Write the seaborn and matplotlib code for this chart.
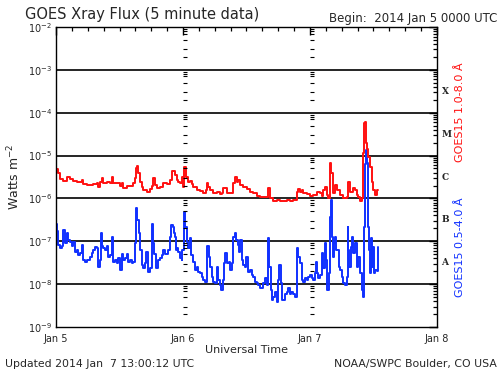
import numpy as np
import pandas as pd
import matplotlib
matplotlib.use("Agg")
import matplotlib.pyplot as plt
import seaborn as sns
from matplotlib.ticker import FixedLocator, LogLocator, NullFormatter, FuncFormatter

# ---- data: hours since 2014 Jan 5 00:00 UTC, log10 flux (W m^-2) ----
long_hours = [0.0, 0.38, 0.76, 1.32, 2.08, 2.65, 3.21, 3.97, 4.54, 4.86, 5.10, 5.86, 6.43, 6.99,
              7.75, 7.94, 8.32, 8.69, 8.88, 9.64, 10.2, 10.6, 10.8, 11.5, 12.1, 12.5, 12.7, 13.4,
              14.0, 14.6, 14.9, 15.1, 15.3, 15.5, 15.9, 16.3, 16.4, 17.2, 17.8, 18.1, 18.3, 18.7,
              19.1, 19.7, 20.2, 21.0, 21.5, 21.9, 22.1, 22.5, 22.9, 23.1, 23.4, 23.8, 24.0, 24.2,
              24.6, 24.9, 25.3, 25.7, 25.9, 26.6, 27.2, 27.8, 28.3, 28.5, 28.7, 29.1, 29.7, 30.4,
              31.0, 31.4, 31.6, 32.3, 32.9, 33.4, 33.8, 34.2, 34.4, 34.8, 35.3, 36.1, 36.7, 37.2,
              38.0, 38.6, 39.1, 39.9, 40.1, 40.4, 41.0, 41.8, 42.3, 42.9, 43.7, 44.2, 44.8, 45.5,
              45.7, 46.1, 46.5, 46.7, 47.4, 48.0, 48.6, 49.3, 49.9, 50.3, 50.5, 50.8, 51.2, 51.4,
              51.8, 52.0, 52.3, 52.7, 53.1, 53.7, 54.2, 55.0, 55.2, 55.6, 56.1, 56.5, 56.9, 57.1,
              57.4, 57.8, 58.1, 58.2, 58.4, 58.6, 58.8, 59.0, 59.3, 59.7, 60.0, 60.3, 60.6, 60.9]
long_log = [-5.32, -5.41, -5.55, -5.59, -5.49, -5.55, -5.59, -5.61, -5.62, -5.57, -5.67, -5.69, -5.69, -5.67,
            -5.63, -5.73, -5.61, -5.53, -5.65, -5.62, -5.63, -5.49, -5.65, -5.65, -5.71, -5.65, -5.76, -5.71,
            -5.71, -5.65, -5.53, -5.30, -5.24, -5.41, -5.61, -5.73, -5.80, -5.84, -5.78, -5.70, -5.53, -5.69,
            -5.76, -5.73, -5.65, -5.67, -5.57, -5.35, -5.35, -5.45, -5.57, -5.61, -5.65, -5.49, -5.73, -5.26,
            -5.49, -5.61, -5.59, -5.67, -5.73, -5.80, -5.82, -5.87, -5.80, -5.64, -5.73, -5.80, -5.87, -5.84,
            -5.90, -5.87, -5.76, -5.87, -5.88, -5.65, -5.49, -5.61, -5.57, -5.69, -5.73, -5.79, -5.84, -5.87,
            -5.95, -5.96, -5.96, -5.96, -5.76, -6.00, -6.05, -6.03, -6.05, -6.06, -6.03, -6.05, -6.03, -5.84,
            -5.78, -5.86, -5.80, -5.88, -5.89, -5.94, -5.92, -5.84, -5.88, -5.94, -5.80, -5.73, -5.92, -6.00,
            -5.18, -5.40, -5.88, -5.69, -5.80, -5.92, -6.00, -5.96, -5.61, -5.84, -5.76, -5.80, -5.92, -5.96,
            -6.05, -6.00, -4.95, -4.25, -4.21, -4.71, -4.85, -5.03, -5.26, -5.61, -5.80, -5.92, -5.80, -5.80]

short_hours = [0.0, 0.19, 0.43, 0.76, 1.08, 1.38, 1.70, 2.02, 2.32, 2.65, 2.97, 3.27, 3.59, 3.91, 4.21,
               4.54, 4.86, 5.16, 5.48, 5.80, 6.10, 6.43, 6.75, 7.05, 7.37, 7.69, 7.99, 8.32, 8.45, 8.64,
               8.94, 9.26, 9.58, 9.88, 10.2, 10.5, 10.7, 10.8, 11.1, 11.5, 11.8, 12.1, 12.4, 12.7, 13.0,
               13.4, 13.7, 14.0, 14.3, 14.6, 14.9, 15.1, 15.4, 15.6, 15.9, 16.2, 16.5, 16.8, 17.1, 17.4,
               17.8, 18.1, 18.4, 18.5, 18.9, 19.3, 19.7, 20.0, 20.3, 20.6, 20.9, 21.2, 21.5, 21.7, 22.1,
               22.3, 22.5, 22.7, 22.9, 23.1, 23.4, 23.8, 23.9, 24.1, 24.4, 24.7, 25.0, 25.3, 25.6, 25.9,
               26.3, 26.6, 26.9, 27.2, 27.5, 27.8, 28.2, 28.5, 28.6, 28.9, 29.1, 29.4, 29.7, 30.0, 30.4,
               30.7, 31.0, 31.2, 31.5, 31.7, 31.9, 32.3, 32.6, 32.9, 33.2, 33.5, 33.8, 34.0, 34.3, 34.5,
               34.8, 35.1, 35.4, 35.7, 36.0, 36.3, 36.7, 37.0, 37.3, 37.6, 37.9, 38.2, 38.6, 39.2, 39.5,
               39.8, 40.1, 40.3, 40.6, 40.8, 41.1, 41.4, 41.7, 42.0, 42.2, 42.5, 42.8, 43.3, 43.6, 43.9,
               44.2, 44.5, 44.8, 45.2, 45.5, 45.8, 46.1, 46.4, 46.7, 47.1, 47.4, 47.7, 48.0, 48.3, 48.6,
               48.9, 49.1, 49.4, 49.6, 49.9, 50.2, 50.5, 50.8, 51.0, 51.3, 51.5, 51.8, 51.9, 52.1, 52.3,
               52.5, 52.8, 53.0, 53.4, 53.7, 54.0, 54.3, 54.6, 54.9, 55.1, 55.2, 55.4, 55.7, 55.9, 56.2,
               56.5, 56.8, 57.1, 57.5, 57.8, 58.0, 58.2, 58.4, 58.6, 58.7, 58.9, 59.0, 59.2, 59.3, 59.5,
               59.7, 60.0, 60.1, 60.3, 60.6, 60.9]
short_log = [-6.60, -6.75, -7.09, -7.16, -7.12, -6.74, -7.05, -6.81, -6.96, -7.01, -7.12, -7.01, -7.24, -7.20, -7.32,
             -7.28, -7.09, -7.44, -7.48, -7.44, -7.43, -7.36, -7.28, -7.20, -7.13, -7.16, -7.59, -7.44, -6.81, -7.12,
             -7.16, -7.20, -7.12, -7.36, -7.32, -6.89, -7.40, -7.48, -7.44, -7.51, -7.40, -7.67, -7.29, -7.44, -7.40,
             -7.29, -7.48, -7.44, -7.51, -7.48, -7.05, -6.23, -6.50, -6.81, -7.20, -7.55, -7.63, -7.51, -7.24, -7.71,
             -7.63, -6.60, -7.05, -7.29, -7.63, -7.44, -7.40, -7.32, -7.20, -7.29, -7.29, -7.20, -6.89, -6.62, -6.66,
             -6.81, -6.89, -7.20, -7.16, -7.24, -7.40, -7.44, -7.20, -6.31, -6.66, -7.01, -7.16, -6.93, -7.32, -7.48,
             -7.67, -7.59, -7.71, -7.75, -7.83, -7.90, -7.94, -7.44, -7.10, -7.36, -7.59, -7.83, -7.94, -7.98, -7.59,
             -7.90, -8.02, -8.14, -7.90, -7.51, -7.28, -7.51, -7.48, -7.67, -7.51, -6.89, -6.81, -6.96, -7.09, -7.24,
             -6.96, -7.44, -7.55, -7.59, -7.36, -7.71, -7.67, -7.79, -7.83, -7.94, -7.98, -8.02, -8.10, -7.98, -7.86,
             -8.02, -6.93, -7.59, -8.14, -8.37, -8.30, -8.18, -8.41, -7.90, -7.55, -7.98, -8.37, -8.22, -8.18, -8.10,
             -8.22, -8.18, -8.22, -8.30, -7.16, -7.36, -7.51, -7.90, -7.94, -7.86, -7.90, -7.83, -7.79, -7.86, -7.90,
             -7.75, -7.48, -7.75, -7.86, -7.79, -7.28, -7.63, -7.05, -7.44, -8.14, -7.75, -6.43, -6.04, -6.89, -7.36,
             -7.05, -6.89, -7.20, -7.59, -7.67, -7.83, -7.98, -8.02, -7.83, -6.66, -7.20, -7.59, -7.13, -6.89, -7.28,
             -7.05, -7.59, -7.36, -7.75, -8.14, -8.29, -6.66, -5.20, -4.87, -5.18, -5.80, -6.66, -7.20, -7.74, -6.93,
             -7.60, -7.13, -7.75, -7.67, -7.70, -7.13]

day_ticks = [0, 24, 48, 72]
day_labels = ["Jan 5", "Jan 6", "Jan 7", "Jan 8"]
flare_classes = ["X", "M", "C", "B", "A"]
class_exps = [-3.5, -4.5, -5.5, -6.5, -7.5]

df_long = pd.DataFrame({"hours": long_hours, "flux": 10.0 ** np.array(long_log)})
df_short = pd.DataFrame({"hours": short_hours, "flux": 10.0 ** np.array(short_log)})

sns.set_theme(style="white")
plt.rcParams["font.family"] = ["DejaVu Sans"]

fig = plt.figure(figsize=(5.0, 3.75), dpi=100)
ax = fig.add_axes([0.112, 0.128, 0.762, 0.800])

sns.lineplot(data=df_short, x="hours", y="flux", ax=ax, color="#1030ff", lw=1.4,
             drawstyle="steps-post", estimator=None, sort=False)
sns.lineplot(data=df_long, x="hours", y="flux", ax=ax, color="#ff1010", lw=1.4,
             drawstyle="steps-post", estimator=None, sort=False)

ax.set_yscale("log")
ax.set_ylim(1e-9, 1e-2)
ax.set_xlim(0, 72)

# decade grid lines
for e in range(-8, -2):
    ax.axhline(10.0 ** e, color="black", lw=1.2, zorder=0.5)

# y-axis style ticks repeated at day boundaries
minor_vals = [m * 10.0 ** e for e in range(-9, -2) for m in (2, 3, 5, 7, 8, 9)]
for d in day_ticks[1:3]:
    ax.plot([d + 0.3] * len(minor_vals), minor_vals, ls="none", marker="_",
            ms=3, mew=0.8, color="black")

ax.xaxis.set_major_locator(FixedLocator(day_ticks))
ax.xaxis.set_minor_locator(FixedLocator(list(range(0, 73, 3))))
ax.xaxis.set_minor_formatter(NullFormatter())
ax.set_xticklabels(day_labels)
ax.yaxis.set_major_locator(LogLocator(base=10, numticks=10))
ax.yaxis.set_minor_locator(LogLocator(base=10, subs=range(2, 10), numticks=20))
ax.yaxis.set_minor_formatter(NullFormatter())
ax.yaxis.set_major_formatter(FuncFormatter(lambda v, p: r"$10^{%d}$" % round(np.log10(v))))

ax.tick_params(which="both", direction="in", top=True, right=True, color="black",
               labelsize=7, pad=3)
ax.tick_params(which="major", length=6, width=1.0)
ax.tick_params(which="minor", length=3, width=0.9)
ax.tick_params(axis="x", pad=5)
for s in ax.spines.values():
    s.set_color("black")
    s.set_linewidth(1.0)

ax.set_xlabel("Universal Time", fontsize=8, labelpad=1)
ax.set_ylabel("Watts m$^{-2}$", fontsize=9, labelpad=4)

# flare class letters on right
for lab, e in zip(flare_classes, class_exps):
    ax.text(1.012, (e + 9) / 7, lab, transform=ax.transAxes, fontsize=6.5,
            fontweight="bold", family="DejaVu Serif", va="center", ha="left")

fig.text(0.92, 0.70, "GOES15 1.0-8.0 Å", color="#ff1010", rotation=90,
         fontsize=8, ha="center", va="center")
fig.text(0.92, 0.34, "GOES15 0.5-4.0 Å", color="#1030ff", rotation=90,
         fontsize=8, ha="center", va="center")

fig.text(0.05, 0.962, "GOES Xray Flux (5 minute data)", fontsize=10.5, ha="left", va="center")
fig.text(0.995, 0.95, "Begin:  2014 Jan 5 0000 UTC", fontsize=8.5, ha="right", va="center")
fig.text(0.01, 0.03, "Updated 2014 Jan  7 13:00:12 UTC", fontsize=7.8, ha="left", va="center")
fig.text(0.994, 0.03, "NOAA/SWPC Boulder, CO USA", fontsize=7.8, ha="right", va="center")

fig.savefig("out.png", dpi=100, facecolor="white")
